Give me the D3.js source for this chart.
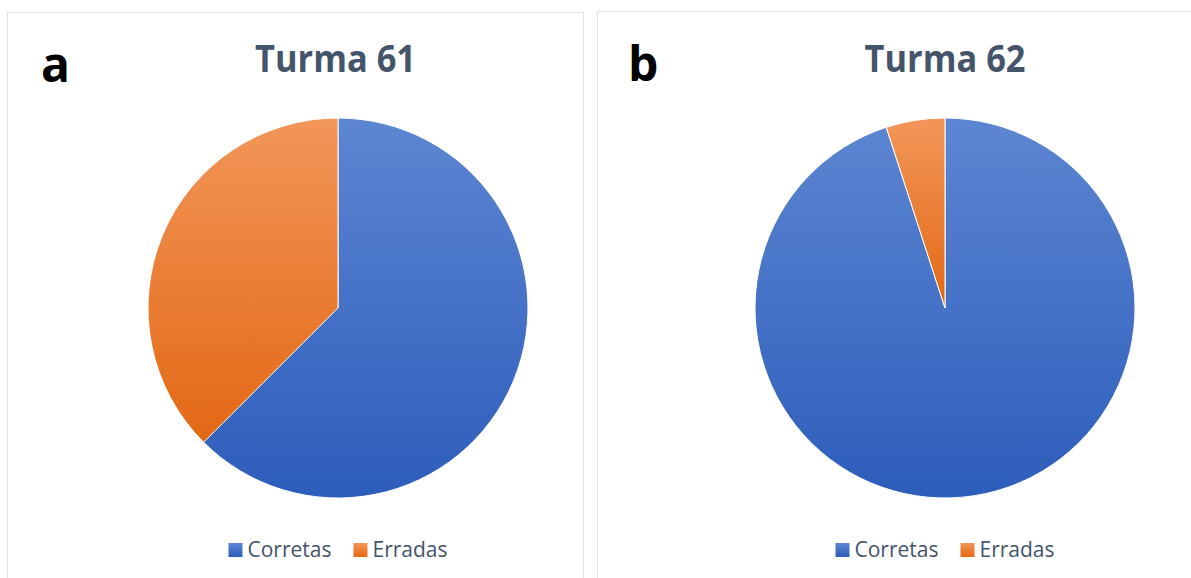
<!DOCTYPE html>
<meta charset="utf-8">
<style>
body { margin: 0; background: #fff; }
.panel { fill: #fff; stroke: #dfe3ea; stroke-width: 1; }
.title { font-family: "Open Sans", sans-serif; font-weight: bold; fill: #44546a; }
.letter { font-family: "Open Sans", sans-serif; font-weight: bold; fill: #000; }
.legend text { font-family: "Open Sans", sans-serif; fill: #44546a; }
</style>
<body>
<div id="plotHere"></div>
<script src="https://cdn.jsdelivr.net/npm/d3@7"></script>
<script>
//------------------------ DATA ------------------------//
const categories = ["Corretas", "Erradas"];
const turma61 = [62.5, 37.5];
const turma62 = [95, 5];
const titles = ["Turma 61", "Turma 62"];
const letters = ["a", "b"];

const width = 1191, height = 578;
const radius = 190;

// panel geometry (left, top, center x of pie)
const panels = [
  {x: 7.5, y: 12.5, w: 576, cx: 338, data: turma61, title: titles[0], letter: letters[0], lx: 41, ly: 82, tx: 335.5},
  {x: 597.5, y: 11.5, w: 700, cx: 945, data: turma62, title: titles[1], letter: letters[1], lx: 628, ly: 81, tx: 945}
];
const cy = 308;

const svg = d3.select("#plotHere").append("svg")
    .attr("width", width)
    .attr("height", height);

// gradients like the office fill
const defs = svg.append("defs");
const colors = d3.scaleOrdinal()
    .domain(categories)
    .range([["#5d86d2", "#2d5dbb"], ["#f29659", "#e36814"]]);
categories.forEach(function(c, i) {
  const g = defs.append("linearGradient")
      .attr("id", "grad" + i)
      .attr("x1", 0).attr("y1", 0).attr("x2", 0).attr("y2", 1);
  g.append("stop").attr("offset", "0%").attr("stop-color", colors(c)[0]);
  g.append("stop").attr("offset", "100%").attr("stop-color", colors(c)[1]);
});

const pie = d3.pie().sort(null).value(function(d) { return d; });
const arc = d3.arc().innerRadius(0).outerRadius(radius);

panels.forEach(function(p) {
  const g = svg.append("g");

  g.append("rect")
      .attr("class", "panel")
      .attr("x", p.x).attr("y", p.y)
      .attr("width", p.w).attr("height", 700);

  g.append("text")
      .attr("class", "letter")
      .attr("x", p.lx).attr("y", p.ly)
      .style("font-size", "48px")
      .text(p.letter);

  g.append("text")
      .attr("class", "title")
      .attr("x", p.tx).attr("y", 72)
      .attr("text-anchor", "middle")
      .attr("textLength", 161)
      .attr("lengthAdjust", "spacingAndGlyphs")
      .style("font-size", "37px")
      .text(p.title);

  // slices
  g.append("g")
      .attr("transform", "translate(" + p.cx + "," + cy + ")")
    .selectAll("path")
    .data(pie(p.data))
    .enter().append("path")
      .attr("d", arc)
      .attr("fill", function(d, i) { return "url(#grad" + i + ")"; })
      .attr("stroke", "#fff")
      .attr("stroke-width", 1);

  // legend
  const leg = g.append("g").attr("class", "legend");
  const items = leg.selectAll("g")
    .data(categories)
    .enter().append("g");
  items.append("rect")
      .attr("width", 14).attr("height", 14)
      .attr("y", 543)
      .attr("fill", function(d, i) { return "url(#grad" + i + ")"; });
  items.append("text")
      .attr("x", 19).attr("y", 557)
      .style("font-size", "21px")
      .text(function(d) { return d; });

  const widths = [];
  items.each(function() { widths.push(19 + d3.select(this).select("text").node().getComputedTextLength()); });
  const gap = 22;
  const total = d3.sum(widths) + gap * (widths.length - 1);
  let xPos = p.cx - total / 2;
  items.attr("transform", function(d, i) {
    const t = "translate(" + xPos + ",0)";
    xPos += widths[i] + gap;
    return t;
  });
});
</script>
</body>
